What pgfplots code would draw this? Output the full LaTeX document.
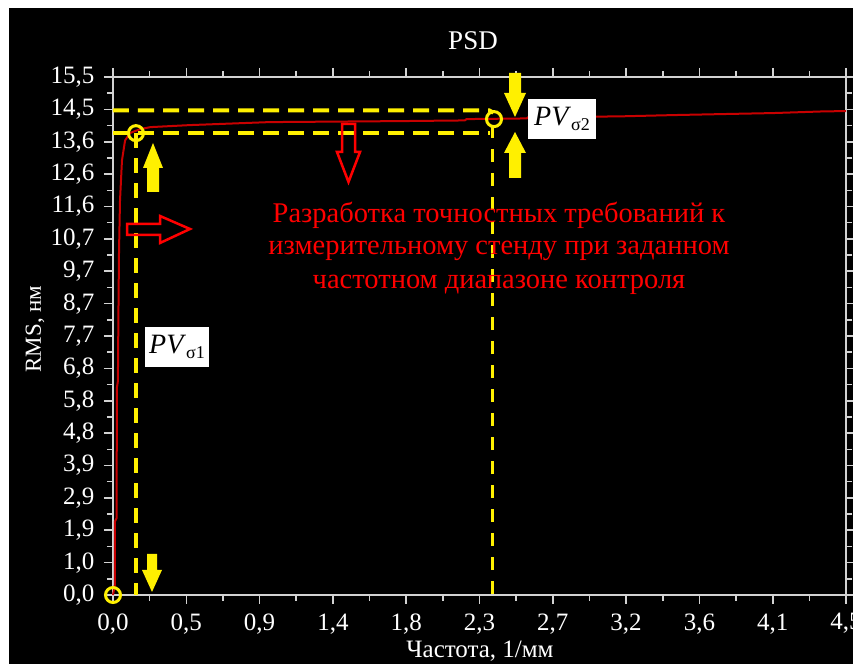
\documentclass[border=0pt]{standalone}
\usepackage{pgfplots}
\pgfplotsset{compat=1.18}
\usepackage{fontspec}
\setmainfont{Liberation Serif}
\definecolor{ylw}{RGB}{255,240,0}
\definecolor{crv}{RGB}{200,0,0}
\definecolor{axgray}{RGB}{210,210,210}
\begin{document}
\begin{tikzpicture}[x=1bp,y=1bp]
\useasboundingbox (-113,-69) rectangle (740,595);
\fill[white] (-113,-69) rectangle (740,595);
\fill[black] (-104,-69) rectangle (740,587);
\begin{axis}[
  at={(0,0)}, anchor=south west,
  scale only axis, width=733bp, height=518bp,
  xmin=0, xmax=4.5, ymin=0, ymax=15.5,
  clip=false,
  axis line style={axgray, line width=2bp},
  tick align=outside,
  major tick length=9bp, minor tick length=6bp,
  tick style={axgray, line width=1.6bp},
  xtick={0,0.45,0.9,1.35,1.8,2.25,2.7,3.15,3.6,4.05,4.5},
  xticklabels={{0,0},{0,5},{0,9},{1,4},{1,8},{2,3},{2,7},{3,2},{3,6},{4,1},{4,5}},
  ytick={0,0.96875,1.9375,2.90625,3.875,4.84375,5.8125,6.78125,7.75,8.71875,9.6875,10.65625,11.625,12.59375,13.5625,14.53125,15.5},
  yticklabels={{0,0},{1,0},{1,9},{2,9},{3,9},{4,8},{5,8},{6,8},{7,7},{8,7},{9,7},{10,7},{11,6},{12,6},{13,6},{14,5},{15,5}},
  minor x tick num=1, minor y tick num=1,
  ticklabel style={white, font=\fontsize{25bp}{26bp}\selectfont},
  xticklabel style={yshift=-6bp},
  yticklabel style={xshift=-6bp},
]
% data curve
\addplot[crv, line width=2bp] coordinates {
(0,0) (0.011,0.3) (0.012,2.2) (0.022,2.3) (0.024,6.2) (0.030,6.4) (0.034,8.8) (0.037,10.3) (0.043,11.8) (0.055,13.0) (0.074,13.6) (0.104,13.82) (0.166,13.94) (0.23,14.0) (0.47,14.06) (0.96,14.15) (1.76,14.18) (2.16,14.20) (2.17,14.24) (2.54,14.26) (2.55,14.30) (3.1,14.32) (3.44,14.36) (3.74,14.39) (4.05,14.42) (4.36,14.47) (4.5,14.48)};
% yellow dashed guides
\addplot[ylw, line width=4bp, dash pattern=on 16bp off 9bp] coordinates {(0,14.5) (2.31,14.5) (2.335,14.43)};
\addplot[ylw, line width=4bp, dash pattern=on 16bp off 9bp] coordinates {(0,13.82) (2.315,13.82)};
\addplot[ylw, line width=4bp, dash pattern=on 15bp off 10bp] coordinates {(0.144,13.82) (0.144,0)};
\addplot[ylw, line width=3bp, dash pattern=on 13bp off 11bp] coordinates {(2.33,14.06) (2.33,0)};
% circles
\addplot[only marks, mark=o, mark size=7.5bp, ylw, line width=3bp, mark options={solid, line width=3bp}] coordinates {(0,0) (0.141,13.82) (2.339,14.24)};
\end{axis}
% yellow filled arrows
\fill[ylw] (34,403) -- (46,403) -- (46,427) -- (50,427) -- (40,452) -- (30,427) -- (34,427) -- cycle;
\fill[ylw] (34,41) -- (44,41) -- (44,25) -- (49,25) -- (39,3) -- (29,25) -- (34,25) -- cycle;
\fill[ylw] (396,522) -- (408,522) -- (408,502) -- (413,502) -- (402,478) -- (391,502) -- (396,502) -- cycle;
\fill[ylw] (396,417) -- (408,417) -- (408,442) -- (413,442) -- (402,463) -- (391,442) -- (396,442) -- cycle;
% red hollow arrows
\draw[red, line width=2.5bp, line join=miter] (14,360) -- (47,360) -- (47,352) -- (77,366) -- (47,379) -- (47,371) -- (14,371) -- cycle;
\draw[red, line width=2.5bp, line join=miter] (229,471) -- (242,471) -- (242,443) -- (247,443) -- (235.5,413) -- (224,443) -- (229,443) -- cycle;
% red text
\begin{scope}[every node/.style={red, anchor=base, inner sep=0pt, font=\fontsize{28.5bp}{30bp}\selectfont}]
\node at (386,372) {Разработка точностных требований к};
\node at (386,340) {измерительному стенду при заданном};
\node at (386,306) {частотном диапазоне контроля};
\end{scope}
% title and labels
\node[white, anchor=base, inner sep=0pt, font=\fontsize{27bp}{30bp}\selectfont] at (360,545) {PSD};
\node[white, anchor=base, inner sep=0pt, font=\fontsize{25bp}{28bp}\selectfont] at (367,-63) {Частота, 1/мм};
\node[white, rotate=90, inner sep=0pt, font=\fontsize{23bp}{26bp}\selectfont] at (-78,266) {RMS, нм};
% PV boxes
\node[fill=white, text=black, minimum width=64bp, minimum height=40bp, inner sep=0pt] at (64,248) {\fontsize{28bp}{30bp}\selectfont\textit{PV}\raisebox{-5bp}{\fontsize{18bp}{20bp}\selectfont σ1}};
\node[fill=white, text=black, minimum width=68bp, minimum height=40bp, inner sep=0pt] at (449,476) {\fontsize{28bp}{30bp}\selectfont\textit{PV}\raisebox{-5bp}{\fontsize{18bp}{20bp}\selectfont σ2}};
\end{tikzpicture}
\end{document}
